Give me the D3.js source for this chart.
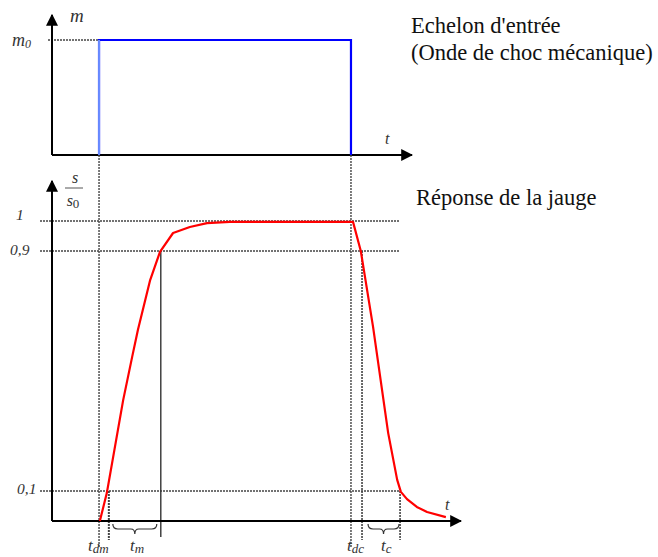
<!DOCTYPE html>
<html>
<head>
<meta charset="utf-8">
<script src="https://cdn.jsdelivr.net/npm/d3@7"></script>
</head>
<body style="margin:0">
<svg width="658" height="557"></svg>
<script>
// input step (top chart): time, m/m0
const stepT = [11.5, 11.5, 73.1, 73.1];
const stepM = [0, 1, 1, 0];

// gauge response (bottom chart): time, s/s0
const respT = [11.7, 13.4, 17.4, 19.6, 21.0, 24.0, 26.4, 29.6, 33.7, 37.9, 43.5, 73.6, 75.5, 78.5, 82.2, 84.4, 85.3, 86.8, 89.2, 91.7, 96.3];
const respS = [0, 0.093, 0.403, 0.547, 0.637, 0.803, 0.897, 0.96, 0.98, 0.993, 0.997, 0.997, 0.9, 0.647, 0.293, 0.137, 0.097, 0.073, 0.047, 0.03, 0.013];

// reference levels and marked times
const levels = [1, 0.9, 0.1];
const levelLabels = ["1", "0,9", "0,1"];
const tDm = 11.5, tDm10 = 13.9, tM90 = 26.6;
const tDc = 73.1, tDc90 = 75.8, tC10 = 85.1;

const svg = d3.select("svg");

const x = d3.scaleLinear().domain([0, 100]).range([52, 461]);
const yTop = d3.scaleLinear().domain([0, 1]).range([155, 40]);
const yBot = d3.scaleLinear().domain([0, 1]).range([521, 221]);

const defs = svg.append("defs");
defs.append("marker").attr("id", "arr")
  .attr("viewBox", "0 0 10 10").attr("refX", 9).attr("refY", 5)
  .attr("markerWidth", 12).attr("markerHeight", 12).attr("orient", "auto")
  .attr("markerUnits", "userSpaceOnUse")
  .append("path").attr("d", "M0,0 L10,5 L0,10 Z").attr("fill", "#000");

const dotted = (x1, y1, x2, y2, w) => svg.append("line")
  .attr("x1", x1).attr("y1", y1).attr("x2", x2).attr("y2", y2)
  .attr("stroke", "#444").attr("stroke-width", w || 1.4)
  .attr("stroke-dasharray", "2,1");

const label = (xx, yy, size, txt, italic) => svg.append("text")
  .attr("x", xx).attr("y", yy).attr("font-size", size)
  .attr("font-family", "Liberation Serif")
  .attr("font-style", italic ? "italic" : "normal")
  .attr("fill", italic ? "#333" : "#111")
  .text(txt);

// ----- top chart -----
dotted(48, yTop(1), 123, yTop(1));
svg.append("line").attr("x1", x(0)).attr("y1", yTop(0)).attr("x2", x(0)).attr("y2", 15)
  .attr("stroke", "#000").attr("stroke-width", 2).attr("marker-end", "url(#arr)");
svg.append("line").attr("x1", x(0)).attr("y1", yTop(0)).attr("x2", 412).attr("y2", yTop(0))
  .attr("stroke", "#000").attr("stroke-width", 2).attr("marker-end", "url(#arr)");

const stepPts = stepT.map((t, i) => [t, stepM[i]]);
svg.append("path").datum(stepPts)
  .attr("fill", "none").attr("stroke", "#0000ff").attr("stroke-width", 2.2)
  .attr("d", d3.line().x(d => x(d[0])).y(d => yTop(d[1])));
svg.append("line").attr("x1", x(tDm)).attr("x2", x(tDm)).attr("y1", yTop(0)).attr("y2", yTop(1))
  .attr("stroke", "#6a8cff").attr("stroke-width", 2);

label(70, 22, 19, "m", true);
label(12, 46, 18, "m", true).append("tspan").attr("font-size", 12).attr("dy", 2).text("0");
label(385, 144, 16, "t", true);

label(411, 33, 22.5, "Echelon d'entrée", false);
label(411, 60, 22.5, "(Onde de choc mécanique)", false);

// ----- bottom chart -----
dotted(x(tDm), yTop(0), x(tDm), 548);
dotted(x(tDc), yTop(0), x(tDc), 548);
levels.forEach(l => dotted(40, yBot(l), 400, yBot(l)));
dotted(x(tDm10), yBot(0.1), x(tDm10), 540, 2);
dotted(x(tDc90), yBot(0.9), x(tDc90), 540, 1.6);
dotted(x(tC10), yBot(0.1), x(tC10), 540, 1.6);
svg.append("line").attr("x1", x(tM90)).attr("x2", x(tM90)).attr("y1", yBot(0.9)).attr("y2", 537)
  .attr("stroke", "#333").attr("stroke-width", 1.4);

svg.append("line").attr("x1", x(0)).attr("y1", yBot(0)).attr("x2", x(0)).attr("y2", 181)
  .attr("stroke", "#000").attr("stroke-width", 2).attr("marker-end", "url(#arr)");
svg.append("line").attr("x1", x(0)).attr("y1", yBot(0)).attr("x2", 461).attr("y2", yBot(0))
  .attr("stroke", "#000").attr("stroke-width", 2).attr("marker-end", "url(#arr)");

const respPts = respT.map((t, i) => [t, respS[i]]);
svg.append("path").datum(respPts)
  .attr("fill", "none").attr("stroke", "#ff0000").attr("stroke-width", 2.2)
  .attr("stroke-linejoin", "round")
  .attr("d", d3.line().x(d => x(d[0])).y(d => yBot(d[1])));

// braces
const brace = (x1, x2, y) => {
  const m = (x1 + x2) / 2;
  return `M${x1},${y} q0,5 5,5 L${m - 4},${y + 5} q4,0 4,5 q0,-5 4,-5 L${x2 - 5},${y + 5} q5,0 5,-5`;
};
svg.append("path").attr("d", brace(x(tDm10) + 4, x(tM90) - 4, 524))
  .attr("fill", "none").attr("stroke", "#333").attr("stroke-width", 1.2);
svg.append("path").attr("d", brace(x(tDc90) + 6, x(tC10) - 1, 524))
  .attr("fill", "none").attr("stroke", "#333").attr("stroke-width", 1.2);

// level labels (left of the axis)
const levelX = [16, 10, 17];
const levelDy = [-1, 4, 3];
levels.forEach((l, i) => {
  label(levelX[i], yBot(l) + levelDy[i], 15.5, levelLabels[i], true);
});
label(75, 183, 16, "s", true).attr("text-anchor", "middle");
svg.append("line").attr("x1", 65).attr("x2", 83).attr("y1", 188).attr("y2", 188)
  .attr("stroke", "#555").attr("stroke-width", 1);
label(73, 206, 16, "s", true).attr("text-anchor", "middle")
  .append("tspan").attr("font-size", 13).attr("dy", 2).attr("font-style", "normal").text("0");

label(416, 205, 22.5, "Réponse de la jauge", false);
label(445, 510, 16, "t", true);

const sub = (xx, s) => label(xx, 551, 17, "t", true)
  .append("tspan").attr("font-size", 13).attr("dy", 2).text(s);
sub(88, "dm");
sub(130, "m");
sub(347, "dc");
sub(381, "c");
</script>
</body>
</html>
